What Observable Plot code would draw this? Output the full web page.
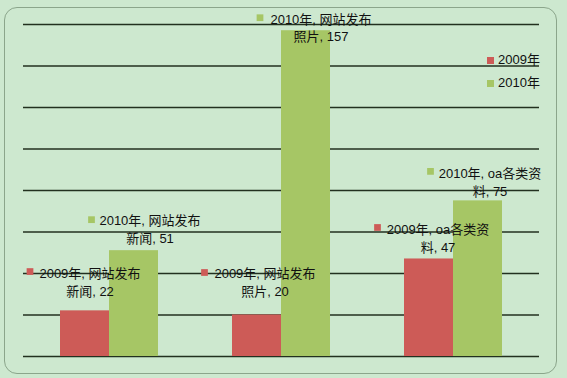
<!DOCTYPE html>
<html><head><meta charset="utf-8">
<script src="https://cdn.jsdelivr.net/npm/d3@7"></script>
<script src="https://cdn.jsdelivr.net/npm/@observablehq/plot@0.6"></script>
<style>
body{margin:0;background:#cde8cf;font-family:"Liberation Sans","Noto Sans CJK SC",sans-serif;}
#wrap{position:relative;width:567px;height:378px;overflow:hidden;background:#cde8cf}
#frame{position:absolute;left:4px;top:7px;width:553px;height:367px;border:1px solid #8ba58b;border-radius:13px;box-sizing:border-box}
#chart{position:absolute;left:0;top:0}
.lg{position:absolute;font-size:13px;line-height:16px;color:#111;display:flex;align-items:center}
.lg span.k{display:inline-block;width:7px;height:7px;margin-right:4px}
</style></head><body>
<div id="wrap"><div id="frame"></div><div id="chart"></div><div id="legend"></div></div>
<script>
// ---- data ----
const categories = ["网站发布新闻", "网站发布照片", "oa各类资料"];
const series = ["2009年", "2010年"];
const values2009 = [22, 20, 47];
const values2010 = [51, 157, 75];
const labelCategory = ["网站发布\n新闻", "网站发布\n照片", "oa各类资\n料"];
const yTicks = [0, 20, 40, 60, 80, 100, 120, 140, 160];

// ---- layout (pixel nudges for data labels, per category) ----
const textDx2009 = [5, 8, 9], textDx2010 = [16, 15, 12];
const textDy2009 = [-30, -33.5, -22], textDy2010 = [-22, -4, -20];
const keyDx2009 = [-55, -52.5, -51.5], keyDx2010 = [-42.5, -46, -47.5];
const keyDy2009 = [-39.3, -42.5, -31.5], keyDy2010 = [-31, -13, -29.5];

const colors = {"2009年": "#cd5b57", "2010年": "#a6c665"};

const rows = [];
categories.forEach((c, i) => {
  const [head, tail] = labelCategory[i].split("\n");
  rows.push({cat: c, series: series[0], value: values2009[i],
    label: `${series[0]}, ${head}\n${tail}, ${values2009[i]}`,
    tdx: textDx2009[i], tdy: textDy2009[i], kdx: keyDx2009[i], kdy: keyDy2009[i]});
  rows.push({cat: c, series: series[1], value: values2010[i],
    label: `${series[1]}, ${head}\n${tail}, ${values2010[i]}`,
    tdx: textDx2010[i], tdy: textDy2010[i], kdx: keyDx2010[i], kdy: keyDy2010[i]});
});

const labelMarks = rows.flatMap(d => [
  Plot.text([d], {fx: "cat", x: "series", y: "value", text: "label",
    dx: d.tdx, dy: d.tdy, fill: "#111", fontSize: 13, lineHeight: 1.38, lineAnchor: "middle"}),
  Plot.dot([d], {fx: "cat", x: "series", y: "value", symbol: "square", r: 3.8,
    dx: d.kdx, dy: d.kdy, fill: colors[d.series], stroke: null})
]);

const chart = Plot.plot({
  width: 567, height: 378,
  marginLeft: 22, marginRight: 27, marginTop: 24, marginBottom: 22,
  style: {background: "transparent", fontFamily: "'Liberation Sans','Noto Sans CJK SC',sans-serif", fontSize: "13px"},
  fx: {domain: categories, padding: 0, axis: null},
  x: {domain: series, paddingInner: 0, paddingOuter: 0.75, axis: null},
  y: {domain: [0, 160], axis: null},
  color: {domain: series, range: series.map(s => colors[s])},
  marks: [
    Plot.ruleY(yTicks, {stroke: "#22301f", strokeWidth: 1.3}),
    Plot.barY(rows, {fx: "cat", x: "series", y: "value", fill: "series"}),
    ...labelMarks
  ]
});
document.getElementById("chart").append(chart);

// legend
const lg = document.getElementById("legend");
series.forEach((s, i) => {
  const el = document.createElement("div");
  el.className = "lg";
  el.style.left = "487px";
  el.style.top = (52 + i * 23) + "px";
  el.innerHTML = `<span class="k" style="background:${colors[s]}"></span><span>${s}</span>`;
  lg.append(el);
});
</script>
</body></html>
